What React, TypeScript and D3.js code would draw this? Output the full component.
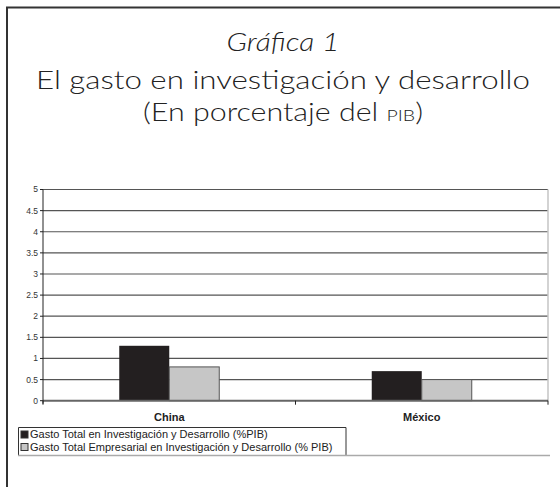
import React, { useEffect, useRef } from "react";
import * as d3 from "d3";

const categories = ["China", "México"];
const seriesNames = [
  "Gasto Total en Investigación y Desarrollo (%PIB)",
  "Gasto Total Empresarial en Investigación y Desarrollo (% PIB)",
];
const gastoTotal = [1.3, 0.7];
const gastoEmpresarial = [0.8, 0.5];
const yTicks = [0, 0.5, 1, 1.5, 2, 2.5, 3, 3.5, 4, 4.5, 5];
const colors = ["#231f20", "#c6c6c6"];

const sans = "'Liberation Sans', Arial, sans-serif";

function App() {
  const ref = useRef<SVGSVGElement>(null);

  useEffect(() => {
    const svg = d3.select(ref.current);
    svg.selectAll("*").remove();

    const left = 43;
    const right = 548;
    const top = 189.5;
    const bottom = 400.7;

    // frame
    svg.append("path")
      .attr("d", "M7,487V7.5H560")
      .attr("fill", "none")
      .attr("stroke", "#333")
      .attr("stroke-width", 2);

    // title
    const title = svg.append("g")
      .attr("font-family", "'Lato', 'Open Sans', sans-serif")
      .attr("font-weight", 300)
      .attr("fill", "#222")
      .attr("text-anchor", "middle");
    title.append("text")
      .attr("x", 283).attr("y", 51)
      .attr("font-size", 25)
      .attr("font-style", "italic")
      .attr("textLength", 113)
      .attr("lengthAdjust", "spacingAndGlyphs")
      .text("Gráfica 1");
    title.append("text")
      .attr("x", 283).attr("y", 89)
      .attr("font-size", 25)
      .attr("textLength", 494)
      .attr("lengthAdjust", "spacingAndGlyphs")
      .text("El gasto en investigación y desarrollo");
    const t3 = title.append("text")
      .attr("x", 283).attr("y", 121)
      .attr("font-size", 25)
      .attr("textLength", 280)
      .attr("lengthAdjust", "spacingAndGlyphs");
    t3.append("tspan").text("(En porcentaje del ");
    t3.append("tspan").attr("font-size", 16).text("PIB");
    t3.append("tspan").text(")");

    const x = d3.scaleBand().domain(categories).range([left, right]);
    const y = d3.scaleLinear().domain([0, 5]).range([bottom, top]);
    const barW = 50;

    // gridlines
    svg.append("g")
      .selectAll("line")
      .data(yTicks.filter(d => d > 0))
      .join("line")
      .attr("x1", left).attr("x2", right)
      .attr("y1", d => y(d)).attr("y2", d => y(d))
      .attr("stroke", "#555")
      .attr("stroke-width", 1.2);

    // plot right border
    svg.append("line")
      .attr("x1", right).attr("x2", right)
      .attr("y1", top).attr("y2", bottom)
      .attr("stroke", "#c4c4c4")
      .attr("stroke-width", 1.5);

    // bars
    const series = [gastoTotal, gastoEmpresarial];
    series.forEach((vals, si) => {
      svg.append("g")
        .selectAll("rect")
        .data(categories)
        .join("rect")
        .attr("x", c => (x(c) as number) + x.bandwidth() / 2 - barW + si * barW)
        .attr("y", (c, i) => y(vals[i]))
        .attr("width", barW)
        .attr("height", (c, i) => bottom - y(vals[i]))
        .attr("fill", colors[si])
        .attr("stroke", si === 0 ? "none" : "#555")
        .attr("stroke-width", 1);
    });

    // x axis
    svg.append("line")
      .attr("x1", left).attr("x2", right)
      .attr("y1", bottom).attr("y2", bottom)
      .attr("stroke", "#666")
      .attr("stroke-width", 2);
    const xTickPos = [left, left + x.bandwidth(), right];
    svg.append("g")
      .selectAll("line")
      .data(xTickPos)
      .join("line")
      .attr("x1", d => d).attr("x2", d => d)
      .attr("y1", bottom).attr("y2", bottom + 4)
      .attr("stroke", "#222");

    svg.append("g")
      .selectAll("text")
      .data(categories)
      .join("text")
      .attr("x", c => (x(c) as number) + x.bandwidth() / 2)
      .attr("y", 421)
      .attr("text-anchor", "middle")
      .attr("font-family", sans)
      .attr("font-size", 11)
      .attr("font-weight", "bold")
      .attr("fill", "#222")
      .text(c => c);

    // y axis
    svg.append("line")
      .attr("x1", left).attr("x2", left)
      .attr("y1", top).attr("y2", bottom + 3)
      .attr("stroke", "#222")
      .attr("stroke-width", 1);
    const yg = svg.append("g");
    yg.selectAll("line")
      .data(yTicks)
      .join("line")
      .attr("x1", left - 3).attr("x2", left)
      .attr("y1", d => y(d)).attr("y2", d => y(d))
      .attr("stroke", "#222");
    yg.selectAll("text")
      .data(yTicks)
      .join("text")
      .attr("x", left - 5)
      .attr("y", d => y(d))
      .attr("dy", "0.35em")
      .attr("text-anchor", "end")
      .attr("font-family", sans)
      .attr("font-size", 8.5)
      .attr("fill", "#333")
      .text(d => String(d));

    // legend
    const lg = svg.append("g");
    lg.append("path")
      .attr("d", "M18.5,455V427.5H346V455")
      .attr("fill", "none")
      .attr("stroke", "#333")
      .attr("stroke-width", 1);
    lg.append("line")
      .attr("x1", 18).attr("x2", 550)
      .attr("y1", 455.5).attr("y2", 455.5)
      .attr("stroke", "#aaa")
      .attr("stroke-width", 1.5);
    seriesNames.forEach((name, i) => {
      const yy = 434.5 + i * 12.5;
      lg.append("rect")
        .attr("x", 21).attr("y", yy - 3.5)
        .attr("width", 7).attr("height", 7)
        .attr("fill", colors[i])
        .attr("stroke", "#333")
        .attr("stroke-width", 1);
      lg.append("text")
        .attr("x", 30).attr("y", yy)
        .attr("dy", "0.35em")
        .attr("font-family", sans)
        .attr("font-size", 11)
        .attr("fill", "#222")
        .text(name);
    });

    return () => {
      svg.selectAll("*").remove();
    };
  }, []);

  return (
    <svg
      ref={ref}
      width={560}
      height={487}
      style={{ position: "absolute", left: 0, top: 0, background: "#fff" }}
    ></svg>
  );
}

export default App;
